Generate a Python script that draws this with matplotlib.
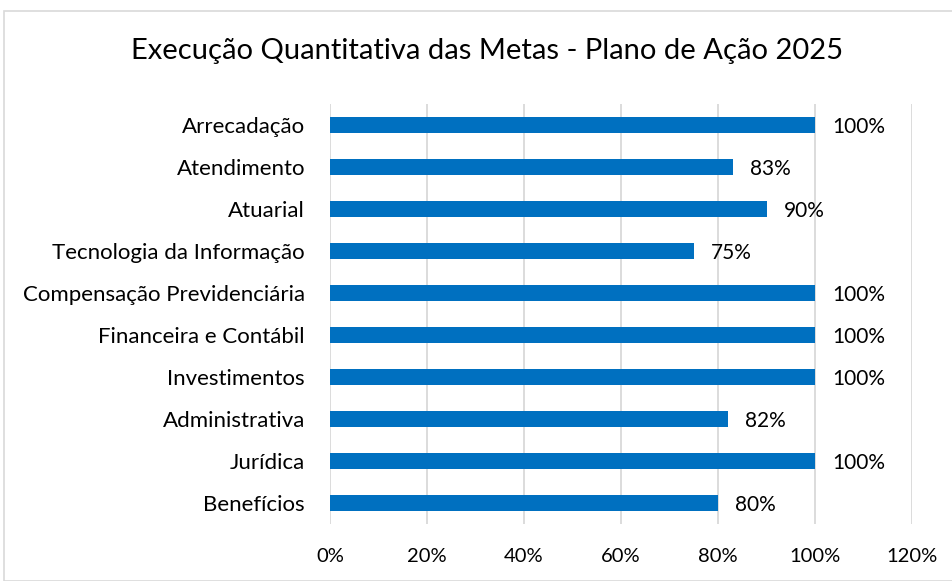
import matplotlib
matplotlib.use("Agg")
import matplotlib.pyplot as plt
from matplotlib.patches import Rectangle
from matplotlib.ticker import FuncFormatter

categories = ["Arrecadação", "Atendimento", "Atuarial", "Tecnologia da Informação",
              "Compensação Previdenciária", "Financeira e Contábil", "Investimentos",
              "Administrativa", "Jurídica", "Benefícios"]
values = [1.00, 0.83, 0.90, 0.75, 1.00, 1.00, 1.00, 0.82, 1.00, 0.80]
xticks = [0, 0.2, 0.4, 0.6, 0.8, 1.0, 1.2]
title = "Execução Quantitativa das Metas - Plano de Ação 2025"

plt.rcParams['font.family'] = ['Lato', 'DejaVu Sans']

W, H = 953, 581
fig = plt.figure(figsize=(W / 100, H / 100), dpi=100)
fig.patches.append(Rectangle((4 / W, 0), 1, 1 - 11 / H, transform=fig.transFigure,
                             fill=False, edgecolor="#d9d9d9", linewidth=1.2))

ax = fig.add_axes([330 / W, 1 - 524 / H, (912 - 330) / W, (524 - 104) / H])
ypos = list(range(len(categories)))
ax.barh(ypos, values, height=0.36, color="#0070C0")
ax.set_ylim(len(categories) - 0.5, -0.5)
ax.set_xlim(0, 1.2)
ax.set_yticks(ypos)
ax.set_yticklabels(categories, fontsize=16, color="#000000")
ax.set_xticks(xticks)
ax.xaxis.set_major_formatter(FuncFormatter(lambda v, p: f"{v*100:.0f}%"))
ax.tick_params(axis="x", labelsize=14.5, length=0, pad=17, colors="#000000")
ax.tick_params(axis="y", length=0, pad=18)
for s in ax.spines.values():
    s.set_visible(False)
ax.grid(axis="x", color="#d9d9d9", linewidth=1.3)
ax.set_axisbelow(True)

for y, v in zip(ypos, values):
    ax.annotate(f"{v*100:.0f}%", (v, y), xytext=(17, -2), textcoords="offset pixels",
                va="center", ha="left", fontsize=15, color="#000000")

fig.text(487 / W, 1 - 51 / H, title, ha="center", va="center", fontsize=21, color="#000000")

fig.savefig("out.png", dpi=100)
